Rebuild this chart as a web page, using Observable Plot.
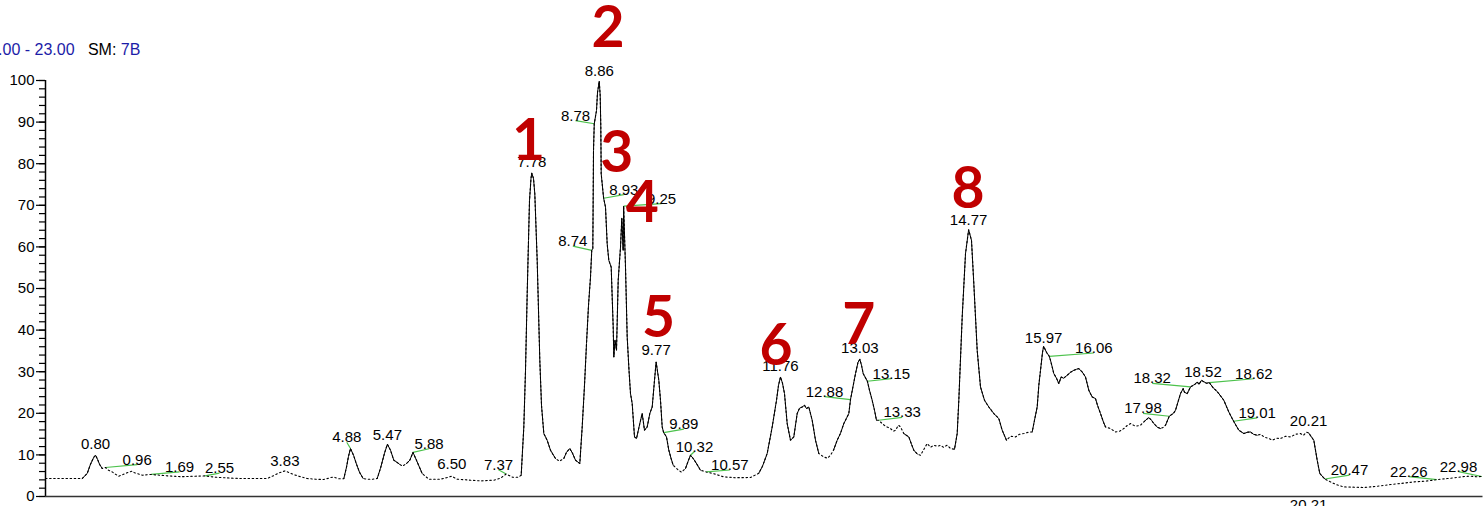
<!DOCTYPE html>
<html><head><meta charset="utf-8">
<script src="https://cdn.jsdelivr.net/npm/d3@7"></script>
<script src="https://cdn.jsdelivr.net/npm/@observablehq/plot@0.6"></script>
<style>
html,body{margin:0;padding:0;background:#fff;overflow:hidden;}
#wrap{position:relative;width:1484px;height:506px;overflow:hidden;}
#hdr{position:absolute;top:41px;left:-39px;font:16px "Liberation Sans",Arial,sans-serif;white-space:pre;color:#000;}
.b{color:#1c1ca8}
</style></head><body>
<div id="wrap"><div id="chart"></div><div id="hdr">RT: <span class="b">0.00 - 23.00</span>   SM: <span class="b">7B</span></div></div>
<script>
// chromatogram trace: [retention time (min), relative abundance (%)]
const chromatogram = [
[0,4.32],[0.24,4.32],[0.587,4.32],[0.667,5.52],[0.72,7.76],[0.773,9.44],[0.80,9.92],[0.832,8.96],[0.864,7.76],[0.907,6.73],
[0.96,6.97],[1.008,6.32],[1.067,5.91],[1.12,5.36],[1.173,4.88],[1.232,5.24],[1.28,5.52],[1.328,5.84],[1.387,6.08],[1.424,5.72],
[1.467,5.52],[1.547,5.12],[1.69,5.3],[1.92,5.0],[2.16,4.76],[2.40,4.88],[2.55,4.95],[2.72,4.64],[2.907,4.47],[3.12,4.32],
[3.36,4.32],[3.547,4.32],[3.648,5.0],[3.744,5.72],[3.83,6.15],[3.904,5.72],[3.968,5.28],[4.08,4.76],[4.187,4.32],[4.32,4.16],
[4.448,4.08],[4.528,4.4],[4.608,4.71],[4.688,4.28],[4.773,4.28],[4.816,7.04],[4.848,9.68],[4.88,11.53],[4.928,9.92],[4.976,7.76],
[5.024,5.84],[5.083,4.32],[5.152,4.16],[5.232,4.16],[5.307,4.32],[5.36,6.8],[5.424,10.4],[5.47,12.56],[5.52,11.12],[5.573,8.72],
[5.616,8.31],[5.664,7.76],[5.712,7.28],[5.776,7.93],[5.829,8.72],[5.88,10.6],[5.947,8.31],[6.027,5.52],[6.133,4.16],[6.32,4.16],
[6.416,4.52],[6.50,4.88],[6.587,4.16],[6.8,3.92],[6.96,3.75],[7.173,3.92],[7.28,4.4],[7.37,5.4],[7.472,4.64],[7.568,4.64],
[7.611,5.12],[7.653,16.72],[7.68,30.34],[7.707,48.76],[7.728,61.56],[7.744,71.17],[7.768,76.46],[7.78,77.73],[7.808,76.46],[7.829,72.78],
[7.867,56.76],[7.909,32.74],[7.936,21.93],[7.973,15.13],[8.027,13.52],[8.08,11.12],[8.16,9.13],[8.224,8.48],[8.293,9.13],[8.336,10.64],
[8.389,11.53],[8.432,10.4],[8.48,8.72],[8.549,7.93],[8.587,16.72],[8.624,26.73],[8.656,36.75],[8.688,45.95],[8.72,52.75],[8.74,59.16],
[8.757,59.64],[8.768,83.18],[8.78,89.6],[8.816,92.79],[8.832,97.11],[8.86,99.83],[8.875,96.39],[8.885,88.78],[8.891,77.58],[8.93,71.7],
[8.96,69.56],[8.987,60.77],[9.013,56.76],[9.051,55.15],[9.083,40.74],[9.093,33.53],[9.112,37.54],[9.136,35.14],[9.163,51.96],[9.20,59.95],
[9.221,66.85],[9.232,62.77],[9.243,59.16],[9.25,69.8],[9.28,55.15],[9.307,38.34],[9.336,30.34],[9.36,24.74],[9.387,22.34],[9.424,14.32],
[9.456,13.93],[9.509,17.53],[9.547,19.94],[9.584,15.93],[9.627,16.72],[9.669,19.94],[9.707,21.52],[9.744,27.94],[9.77,32.33],[9.813,27.94],
[9.84,23.13],[9.867,16.72],[9.89,15.37],[9.936,14.32],[9.973,11.12],[10.008,9.2],[10.043,7.52],[10.128,6.32],[10.176,5.84],[10.24,6.73],
[10.288,8.72],[10.32,9.92],[10.36,9.2],[10.40,8.31],[10.48,6.32],[10.57,5.91],[10.72,5.36],[10.853,4.71],[11.04,4.52],[11.28,4.56],
[11.413,5.6],[11.472,7.28],[11.547,10.33],[11.627,16.72],[11.696,23.13],[11.728,26.73],[11.76,28.73],[11.792,27.22],[11.824,24.74],[11.867,17.53],
[11.92,13.52],[11.973,14.32],[12.027,19.94],[12.064,21.21],[12.107,21.52],[12.144,21.93],[12.176,21.14],[12.213,21.52],[12.267,18.33],[12.32,13.52],
[12.373,10.33],[12.453,9.51],[12.512,9.2],[12.56,9.92],[12.608,11.12],[12.667,13.52],[12.72,15.2],[12.773,17.53],[12.816,18.81],[12.853,19.94],
[12.88,23.3],[12.96,29.54],[13.0,32.26],[13.03,32.98],[13.056,31.54],[13.083,29.54],[13.15,27.7],[13.184,25.53],[13.227,23.13],[13.264,20.73],
[13.296,18.33],[13.33,18.33],[13.387,17.53],[13.44,16.89],[13.52,16.33],[13.568,15.69],[13.60,15.93],[13.648,17.13],[13.68,16.72],[13.733,15.13],
[13.813,14.32],[13.856,12.56],[13.893,11.12],[13.952,10.16],[14.0,9.92],[14.064,11.6],[14.107,12.73],[14.16,11.84],[14.213,12.32],[14.272,12.08],
[14.32,12.32],[14.368,11.84],[14.427,12.32],[14.48,11.53],[14.544,11.36],[14.587,15.13],[14.613,23.13],[14.667,43.14],[14.72,58.37],[14.77,64.13],
[14.816,61.56],[14.853,51.16],[14.907,35.14],[14.96,26.33],[15.024,23.13],[15.093,21.52],[15.173,19.94],[15.253,18.74],[15.307,15.93],[15.376,13.52],
[15.44,14.48],[15.52,14.32],[15.584,14.96],[15.653,15.13],[15.728,15.45],[15.787,15.52],[15.824,18.33],[15.867,21.52],[15.893,26.73],[15.92,30.34],
[15.952,34.66],[15.97,36.1],[16.016,34.66],[16.06,33.7],[16.08,32.74],[16.107,31.13],[16.133,29.54],[16.176,28.42],[16.213,27.14],[16.251,28.73],
[16.288,28.42],[16.347,29.14],[16.40,29.86],[16.453,30.34],[16.496,30.58],[16.533,30.75],[16.587,29.93],[16.64,28.73],[16.693,25.53],[16.747,23.92],
[16.80,23.54],[16.832,21.93],[16.88,19.94],[16.928,17.85],[16.96,16.72],[17.04,16.33],[17.12,15.52],[17.184,15.69],[17.253,16.33],[17.312,17.13],
[17.36,17.53],[17.44,16.89],[17.52,17.13],[17.584,18.09],[17.653,18.98],[17.696,18.33],[17.733,17.53],[17.792,16.65],[17.84,16.33],[17.888,16.65],
[17.92,17.13],[17.98,19.29],[18.048,20.01],[18.08,20.73],[18.128,23.13],[18.16,24.74],[18.203,25.94],[18.224,25.05],[18.267,24.74],[18.32,26.33],
[18.363,26.73],[18.392,26.97],[18.427,27.53],[18.456,26.97],[18.496,27.94],[18.52,27.7],[18.576,27.22],[18.62,27.38],[18.693,25.94],[18.728,25.53],
[18.773,24.74],[18.853,23.13],[18.933,20.32],[18.976,19.05],[19.01,18.09],[19.093,15.93],[19.173,15.13],[19.232,15.45],[19.28,15.52],[19.328,14.96],
[19.387,14.72],[19.44,14.96],[19.504,14.24],[19.568,14.0],[19.627,13.52],[19.696,14.0],[19.76,13.93],[19.84,14.48],[19.92,14.32],[20.0,14.96],
[20.08,15.13],[20.128,14.72],[20.176,15.45],[20.21,15.28],[20.293,13.52],[20.347,8.72],[20.389,5.52],[20.47,4.2],[20.56,3.51],[20.656,2.83],
[20.773,2.31],[20.96,2.23],[21.093,2.16],[21.2,2.31],[21.36,2.55],[21.52,2.88],[21.68,3.12],[21.893,3.51],[22.08,3.68],[22.26,4.04],
[22.4,4.28],[22.533,4.47],[22.672,4.76],[22.8,4.88],[22.896,4.76],[22.98,4.8],[23.0,4.71]
];

// time spans where the detected peak trace is drawn solid (elsewhere dotted)
const solidStart = [0.587, 4.773, 5.307, 5.776, 7.611, 8.29, 10.24, 11.413, 12.608, 13.733, 14.544, 15.787, 17.584, 17.92, 20.21];
const solidEnd   = [0.907, 5.083, 5.664, 6.027, 8.16, 10.043, 10.48, 12.373, 13.296, 13.952, 15.376, 16.96, 17.84, 19.387, 20.47];

// labelled retention times
const peakRT        = [0.80, 0.96, 1.69, 2.55, 3.83, 4.88, 5.47, 5.88, 6.50, 7.37, 7.78, 8.86, 8.78, 8.74, 8.93, 9.25, 9.77, 9.89, 10.32, 10.57, 11.76, 12.88, 13.03, 13.15, 13.33, 14.77, 15.97, 16.06, 17.98, 18.32, 18.52, 18.62, 19.01, 20.21, 20.47, 22.26, 22.98];
const peakIntensity = [9.92, 6.97, 5.3, 4.95, 6.15, 11.53, 12.56, 10.6, 4.88, 5.4, 77.73, 99.83, 89.6, 59.16, 71.7, 69.8, 32.33, 15.37, 9.92, 5.91, 28.73, 23.3, 32.98, 27.7, 18.33, 64.13, 36.1, 33.7, 19.29, 26.33, 27.7, 27.38, 18.09, 15.28, 4.2, 4.04, 4.8];
const labelRT       = [0.80, 1.467, 2.144, 2.784, 3.83, 4.82, 5.47, 6.136, 6.50, 7.248, 7.78, 8.86, 8.48, 8.437, 9.253, 9.856, 9.77, 10.213, 10.384, 10.949, 11.76, 12.464, 13.03, 13.533, 13.707, 14.77, 15.97, 16.773, 17.56, 17.707, 18.52, 19.333, 19.387, 20.21, 20.864, 21.813, 22.608];
const labelIntensity= [11.48, 7.64, 5.9, 5.6, 7.4, 13.04, 13.64, 11.48, 6.68, 6.44, 79.15, 101.08, 90.34, 60.17, 72.57, 70.4, 34.06, 16.21, 10.81, 6.37, 30.15, 24.02, 34.42, 28.34, 19.0, 65.24, 36.9, 34.49, 20.0, 27.2, 28.83, 28.3, 18.88, 16.89, 5.12, 4.8, 6.0];

// retention time printed under the axis
const axisRT = [20.21];

// red compound numbers
const compoundText = ["1","2","3","4","5","6","7","8"];
const compoundRT   = [7.728, 9.0, 9.141, 9.547, 9.808, 11.688, 13.013, 14.76];
const compoundY    = [80.78, 108.16, 77.97, 65.96, 38.34, 31.54, 36.75, 69.25];

const yTicks = [0,10,20,30,40,50,60,70,80,90,100];

const trace = chromatogram.map(([t, i]) => ({t, i}));
const isSolid = t => solidStart.some((s, k) => t >= s - 1e-9 && t <= solidEnd[k] + 1e-9);
const peaks = peakRT.map((rt, k) => ({rt, label: rt.toFixed(2), i: peakIntensity[k], lx: labelRT[k], ly: labelIntensity[k]}));
const compounds = compoundText.map((s, k) => ({s, t: compoundRT[k], y: compoundY[k]}));

const chart = Plot.plot({
  width: 1484, height: 506,
  marginLeft: 45, marginRight: 1.5, marginTop: 80, marginBottom: 10,
  x: {domain: [0, 23], axis: null, label: null},
  y: {domain: [0, 100], label: null},
  style: {fontFamily: "'Liberation Sans', Arial, sans-serif", fontSize: "15px", background: "transparent", overflow: "visible", color: "#000"},
  marks: [
    Plot.axisY(d3.range(0, 101, 2), {tickSize: 6, tickFormat: () => "", strokeWidth: 1.2, label: null}),
    Plot.axisY(yTicks, {tickSize: 9, tickPadding: 2, fontSize: 15, strokeWidth: 1.2, label: null}),
    Plot.ruleX([0], {y1: 0, y2: 100, stroke: "#000", strokeWidth: 1.5}),
    Plot.ruleY([0], {stroke: "#333", strokeWidth: 1.6}),
    Plot.link(peaks.filter(d => d.lx !== d.rt), {x1: "lx", y1: "ly", x2: "rt", y2: "i", stroke: "#4cc24c", strokeWidth: 1.2}),
    Plot.line(trace, {x: "t", y: "i", stroke: "#000", strokeWidth: 1.1, strokeDasharray: "1.5,2.6"}),
    Plot.line(trace, {x: "t", y: d => isSolid(d.t) ? d.i : NaN, stroke: "#000", strokeWidth: 1}),
    Plot.text(peaks, {x: "lx", y: "ly", text: "label", lineAnchor: "bottom", textAnchor: "middle", fill: "#000", fontSize: 15}),
    Plot.text(axisRT, {x: d => d, y: () => -0.72, text: d => d.toFixed(2), lineAnchor: "top", fill: "#000", fontSize: 15}),
    Plot.text(compounds, {x: "t", y: "y", text: "s", lineAnchor: "bottom", fill: "#c00000", fontSize: 57, fontWeight: "bold", fontFamily: "Lato, 'Open Sans', sans-serif"})
  ]
});
document.getElementById("chart").appendChild(chart);
</script></body></html>
